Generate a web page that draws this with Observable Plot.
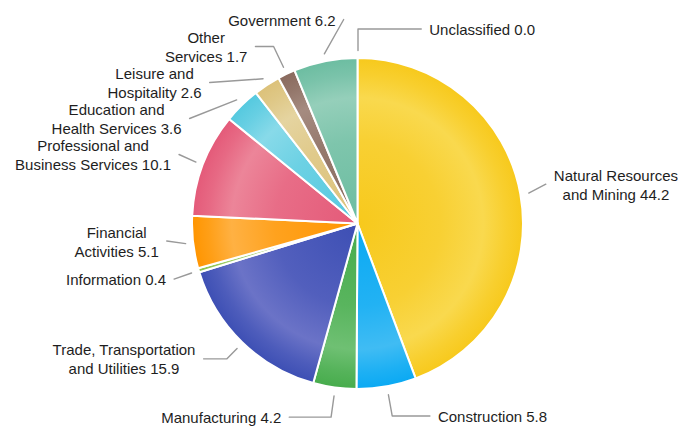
<!DOCTYPE html>
<html>
<head>
<meta charset="utf-8">
<script src="https://cdn.jsdelivr.net/npm/d3@7"></script>
<script src="https://cdn.jsdelivr.net/npm/@observablehq/plot@0.6"></script>
<style>
  html, body { margin: 0; padding: 0; background: #fff; }
  #chart svg { display: block; overflow: visible; }
</style>
</head>
<body>
<div id="chart"></div>
<script>
// ---- data ----
const sectors = [
  "Natural Resources\nand Mining",
  "Construction",
  "Manufacturing",
  "Trade, Transportation\nand Utilities",
  "Information",
  "Financial\nActivities",
  "Professional and\nBusiness Services",
  "Education and\nHealth Services",
  "Leisure and\nHospitality",
  "Other\nServices",
  "Government",
  "Unclassified"
];
const shares = [44.2, 5.8, 4.2, 15.9, 0.4, 5.1, 10.1, 3.6, 2.6, 1.7, 6.2, 0.0];
const baseColors = ["#F7C91C", "#0AA9F3", "#47AC4C", "#3D4FB4", "#8BC34A", "#FF9500",
                    "#E45A79", "#55C9DF", "#DCC179", "#8A6A5E", "#6CBDA1", "#9E9E9E"];
const lightColors = ["#F9D94E", "#40BCF3", "#6FC073", "#6B73C7", "#A4D070", "#FFB143",
                     "#EC8599", "#88DAE9", "#E5D4A0", "#A58B80", "#95CFBA", "#BDBDBD"];

// ---- layout ----
const W = 678, H = 428;
const cx = 357.5, cy = 223.5, r = 165.5;
const fontSize = 15, fontFamily = "'Liberation Sans', Arial, sans-serif";

const rows = sectors.map((s, i) => ({
  i, name: s, share: shares[i],
  label: s + " " + shares[i].toFixed(1),
  lines: (s.match(/\n/g) || []).length + 1
}));
const arcs = d3.pie().sort(null).value(d => d.share).startAngle(0).endAngle(2 * Math.PI)(rows);

const canvas = document.createElement("canvas");
const ctx = canvas.getContext("2d");
ctx.font = `${fontSize}px ${fontFamily}`;

const labels = arcs.map(a => {
  const th = (a.startAngle + a.endAngle) / 2;
  const thm = ((th % (2 * Math.PI)) + 2 * Math.PI) % (2 * Math.PI);
  const right = thm < Math.PI - 1e-9;
  const w = d3.max(a.data.label.split("\n"), t => ctx.measureText(t).width);
  return {
    ...a.data, th, right, w,
    h: 18 * a.data.lines,
    ideal: cy - 195 * Math.cos(th) - 5 * (a.data.lines - 1)
  };
});

// distribute labels vertically on each side to avoid overlaps
function distribute(items, top, bottom) {
  items.sort((a, b) => a.ideal - b.ideal);
  let clusters = [];
  const solve = cl => {
    let off = 0, sum = 0;
    for (const x of cl.items) { sum += x.ideal - off - x.h / 2; off += x.h; }
    cl.H = off;
    cl.s = Math.max(top, Math.min(bottom - cl.H, sum / cl.items.length));
  };
  for (const it of items) {
    const c = {items: [it]};
    solve(c);
    clusters.push(c);
    while (clusters.length > 1) {
      const p = clusters[clusters.length - 2], q = clusters[clusters.length - 1];
      if (p.s + p.H > q.s) {
        const m = {items: p.items.concat(q.items)};
        solve(m);
        clusters.splice(clusters.length - 2, 2, m);
      } else break;
    }
  }
  for (const cl of clusters) {
    let off = cl.s;
    for (const x of cl.items) { x.y = off + x.h / 2; off += x.h; }
  }
}
distribute(labels.filter(d => d.right), 10, H);
distribute(labels.filter(d => !d.right), 10, H);

const rA = r + 8;
const connectorPts = [];
for (const d of labels) {
  const s = Math.sin(d.th), c = Math.cos(d.th);
  const dy = d.y - cy;
  const R = Math.max(192, Math.min(205, 192 + (Math.abs(dy) - 75) * 0.22));
  const dx = Math.sqrt(Math.max(0, R * R - dy * dy));
  d.lx = d.right ? cx + dx : cx - dx;
  d.tx = d.right ? d.lx + 8 + d.w / 2 : d.lx - 8 - d.w / 2;
  const pts = [[cx + rA * s, cy - rA * c]];
  if (Math.abs(c) > 1e-6) {
    const rho = (cy - d.y) / c;
    if (rho > rA + 1) {
      const bx = cx + rho * s;
      if ((d.right && bx < d.lx) || (!d.right && bx > d.lx)) pts.push([bx, d.y]);
    }
  }
  pts.push([d.lx, d.y]);
  pts.forEach(p => connectorPts.push({id: d.i, x: p[0], y: p[1]}));
}

// pie slices drawn with d3.arc through Plot's scales
function pieMark(index, scales, values, dimensions, context) {
  const X = scales.x, Y = scales.y;
  const px = X(cx), py = Y(cy), pr = X(cx + r) - X(cx);
  const g = d3.create("svg:g").attr("transform", `translate(${px},${py})`);
  const defs = g.append("defs");
  arcs.forEach((a, k) => {
    const mix = t => d3.interpolateRgb(baseColors[k], lightColors[k])(t);
    const gr = defs.append("radialGradient")
      .attr("id", "grad" + k).attr("gradientUnits", "userSpaceOnUse")
      .attr("cx", 0).attr("cy", 0).attr("r", pr);
    gr.append("stop").attr("offset", "0").attr("stop-color", baseColors[k]);
    gr.append("stop").attr("offset", "0.5").attr("stop-color", mix(0.45));
    gr.append("stop").attr("offset", "0.76").attr("stop-color", lightColors[k]);
    gr.append("stop").attr("offset", "0.9").attr("stop-color", mix(0.35));
    gr.append("stop").attr("offset", "1").attr("stop-color", baseColors[k]);
  });
  const arcGen = d3.arc().innerRadius(0).outerRadius(pr);
  g.selectAll("path").data(arcs.filter(a => a.endAngle > a.startAngle)).join("path")
    .attr("d", arcGen)
    .attr("fill", a => `url(#grad${a.index})`)
    .attr("stroke", "#fff")
    .attr("stroke-width", 2)
    .attr("stroke-linejoin", "round");
  return g.node();
}

const chart = Plot.plot({
  width: W, height: H,
  margin: 0,
  x: {domain: [0, W], range: [0, W], axis: null},
  y: {domain: [0, H], range: [0, H], axis: null},
  style: {fontFamily, background: "#fff"},
  marks: [
    pieMark,
    Plot.line(connectorPts, {x: "x", y: "y", z: "id", stroke: "#999", strokeWidth: 1.4, curve: "linear"}),
    Plot.text(labels, {
      x: "tx", y: "y", text: "label",
      textAnchor: "middle", lineAnchor: "middle",
      lineHeight: 19 / fontSize, fontSize, fontFamily, fill: "#1e1e1e"
    })
  ]
});
document.getElementById("chart").append(chart);
</script>
</body>
</html>
